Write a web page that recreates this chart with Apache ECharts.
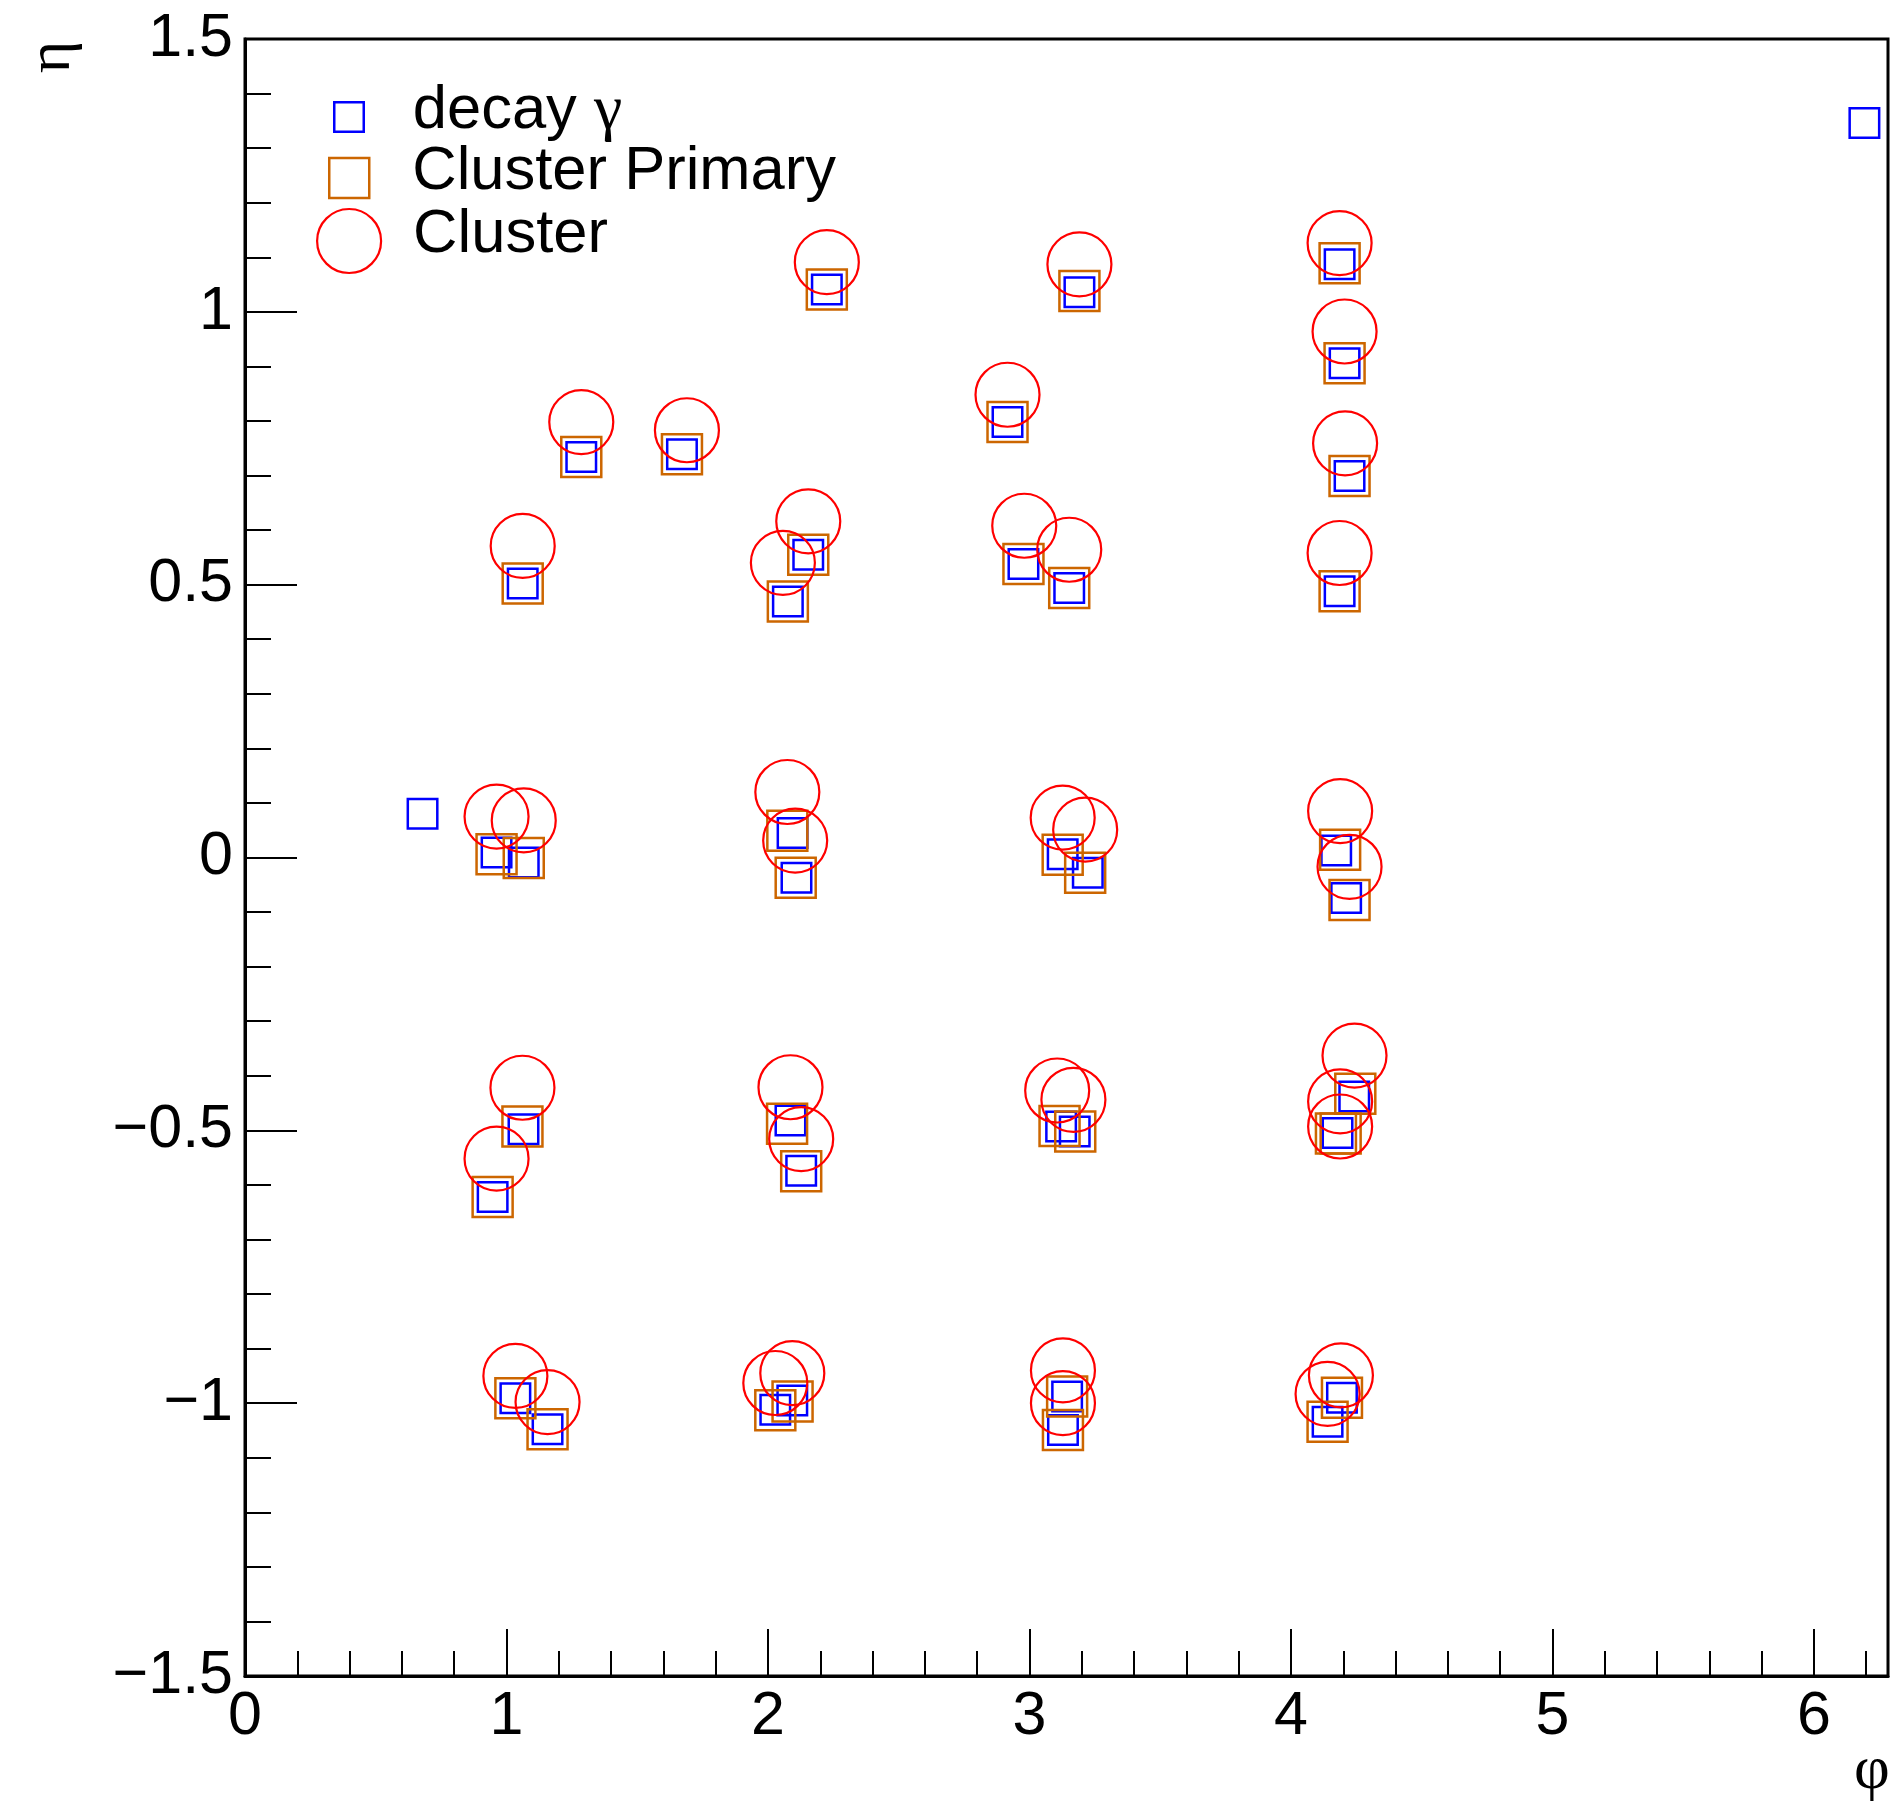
<!DOCTYPE html>
<html><head><meta charset="utf-8">
<script src="https://cdn.jsdelivr.net/npm/echarts@6/dist/echarts.min.js"></script>
<style>html,body{margin:0;padding:0;background:#fff}#c{width:1900px;height:1809px}</style>
</head><body><div id="c"></div>
<script>
// ---- data (phi, eta) ----
const decayPhi = [6.193, 0.679, 2.225, 3.191, 4.186, 4.205, 1.286, 1.671, 2.916, 4.224,
  1.062, 2.076, 2.154, 2.977, 3.152, 4.186, 0.962, 1.066, 2.094, 2.109,
  3.127, 3.223, 4.173, 4.211, 1.065, 0.947, 2.086, 2.127, 3.121, 3.173,
  4.242, 4.178, 1.034, 1.157, 2.028, 2.093, 3.144, 3.128, 4.195, 4.140];
const decayEta = [1.346, 0.080, 1.041, 1.036, 1.087, 0.906, 0.734, 0.739, 0.798, 0.699,
  0.502, 0.469, 0.555, 0.538, 0.494, 0.488, 0.009, -0.009, 0.045, -0.037,
  0.006, -0.028, 0.013, -0.074, -0.498, -0.622, -0.482, -0.574, -0.493, -0.502,
  -0.438, -0.505, -0.991, -1.048, -1.012, -0.995, -0.988, -1.049, -0.990, -1.034];

const primPhi = [2.225, 3.191, 4.186, 4.205, 1.286, 1.671, 2.916, 4.224, 1.062, 2.076,
  2.154, 2.977, 3.152, 4.186, 0.962, 1.066, 2.074, 2.106, 3.127, 3.213,
  4.188, 4.224, 1.061, 0.947, 2.073, 2.127, 3.115, 3.175, 4.246, 4.172,
  4.190, 1.034, 1.157, 2.028, 2.094, 3.144, 3.128, 4.195, 4.140];
const primEta = [1.041, 1.038, 1.089, 0.906, 0.734, 0.739, 0.798, 0.699, 0.502, 0.469,
  0.555, 0.538, 0.494, 0.488, 0.006, -0.001, 0.049, -0.037, 0.005, -0.028,
  0.014, -0.078, -0.493, -0.622, -0.488, -0.575, -0.492, -0.502, -0.433, -0.506,
  -0.506, -0.991, -1.048, -1.013, -0.997, -0.988, -1.049, -0.990, -1.034];

const clusPhi = [2.225, 3.191, 4.186, 4.205, 1.286, 1.690, 2.916, 4.207, 1.062, 2.154,
  2.057, 2.980, 3.152, 4.186, 0.962, 1.066, 2.074, 2.104, 3.127, 3.213,
  4.188, 4.224, 1.061, 0.962, 2.086, 2.127, 3.106, 3.168, 4.243, 4.188,
  4.188, 1.034, 1.157, 2.028, 2.093, 3.128, 3.128, 4.191, 4.140];
const clusEta = [1.091, 1.087, 1.126, 0.964, 0.798, 0.783, 0.848, 0.759, 0.571, 0.616,
  0.540, 0.608, 0.564, 0.558, 0.075, 0.068, 0.120, 0.031, 0.073, 0.051,
  0.085, -0.017, -0.422, -0.552, -0.421, -0.516, -0.427, -0.444, -0.363, -0.447,
  -0.493, -0.950, -0.998, -0.963, -0.945, -0.940, -1.000, -0.949, -0.983];

const seriesNames = ['decay γ', 'Cluster Primary', 'Cluster'];
const xTickValues = [0, 1, 2, 3, 4, 5, 6];
const yTickValues = [-1.5, -1, -0.5, 0, 0.5, 1, 1.5];
const xTitle = 'φ';
const yTitle = 'η';

// ---- build ----
const zip = (a, b) => a.map((v, i) => [v, b[i]]);
const FONT = 'Liberation Sans';
const GREEK = 'Liberation Serif';
const PHI_MAX = 2 * Math.PI;

const chart = echarts.init(document.getElementById('c'), null, {renderer: 'canvas'});

function legendFor(name, icon, size, color, lw, left, top, padLeft) {
  return {
    data: [name], icon: icon, itemWidth: size, itemHeight: size,
    left: left, top: top, padding: 0, selectedMode: false, orient: 'vertical',
    itemStyle: {color: 'rgba(0,0,0,0)', borderColor: color, borderWidth: lw},
    formatter: n => n === 'decay γ' ? 'decay {g|γ}' : n,
    textStyle: {fontFamily: FONT, fontSize: 61.5, color: '#000', padding: [0, 0, 12, padLeft],
      rich: {g: {fontFamily: GREEK, fontSize: 64, color: '#000'}}}
  };
}

const option = {
  animation: false,
  backgroundColor: '#fff',
  grid: {left: 245, right: 12, top: 39, bottom: 133, show: true, borderColor: '#000', borderWidth: 3, backgroundColor: 'rgba(0,0,0,0)'},
  legend: [
    legendFor(seriesNames[0], 'rect', 29.5, '#0000ff', 2.5, 333, 79, 44),
    legendFor(seriesNames[1], 'rect', 40, '#cc6600', 2.5, 328, 141, 38),
    legendFor(seriesNames[2], 'circle', 64, '#ff0000', 2.2, 316, 204, 27)
  ],
  xAxis: [{
    type: 'value', position: 'bottom', min: xTickValues[0], max: PHI_MAX, interval: 1,
    axisLine: {show: true, onZero: false, lineStyle: {color: '#000', width: 3}},
    axisTick: {show: true, inside: true, length: 47, lineStyle: {color: '#000', width: 2}},
    minorTick: {show: false},
    splitLine: {show: false},
    axisLabel: {show: true, margin: 11, color: '#000', fontFamily: FONT, fontSize: 61, showMaxLabel: false,
      formatter: v => xTickValues.indexOf(v) >= 0 ? String(v) : ''}
  }, {
    type: 'value', position: 'bottom', min: 0, max: PHI_MAX, interval: 0.2,
    axisLine: {show: false, onZero: false},
    axisTick: {show: true, inside: true, length: 25, lineStyle: {color: '#000', width: 2}},
    splitLine: {show: false},
    axisLabel: {show: false}
  }],
  yAxis: [{
    type: 'value', position: 'left', min: yTickValues[0], max: yTickValues[yTickValues.length - 1], interval: 0.5,
    axisLine: {show: true, onZero: false, lineStyle: {color: '#000', width: 3}},
    axisTick: {show: true, inside: true, length: 52, lineStyle: {color: '#000', width: 2}},
    minorTick: {show: true, splitNumber: 5, length: 26, lineStyle: {color: '#000', width: 2}},
    splitLine: {show: false},
    minorSplitLine: {show: false},
    axisLabel: {show: true, margin: 12, color: '#000', fontFamily: FONT, fontSize: 61,
      formatter: v => (v < 0 ? '\u2212' + String(Math.abs(v)) : String(v))}
  }],
  graphic: [
    {type: 'text', x: 53, y: 57, rotation: Math.PI / 2,
     style: {text: yTitle, fontFamily: GREEK, fontSize: 62, fill: '#000', align: 'center', verticalAlign: 'middle'}},
    {type: 'text', x: 1872, y: 1772,
     style: {text: xTitle, fontFamily: GREEK, fontSize: 62, fill: '#000', align: 'center', verticalAlign: 'middle'}}
  ],
  series: [
    {type: 'scatter', name: seriesNames[0], xAxisIndex: 0, yAxisIndex: 0, data: zip(decayPhi, decayEta),
     symbol: 'rect', symbolSize: 29.5, silent: true,
     itemStyle: {color: 'rgba(0,0,0,0)', borderColor: '#0000ff', borderWidth: 2.5, opacity: 1}},
    {type: 'scatter', name: seriesNames[1], xAxisIndex: 0, yAxisIndex: 0, data: zip(primPhi, primEta),
     symbol: 'rect', symbolSize: 40, silent: true,
     itemStyle: {color: 'rgba(0,0,0,0)', borderColor: '#cc6600', borderWidth: 2.5, opacity: 1}},
    {type: 'scatter', name: seriesNames[2], xAxisIndex: 0, yAxisIndex: 0, data: zip(clusPhi, clusEta),
     symbol: 'circle', symbolSize: 64, silent: true,
     itemStyle: {color: 'rgba(0,0,0,0)', borderColor: '#ff0000', borderWidth: 2.2, opacity: 1}}
  ]
};
chart.setOption(option);
</script>
</body></html>
